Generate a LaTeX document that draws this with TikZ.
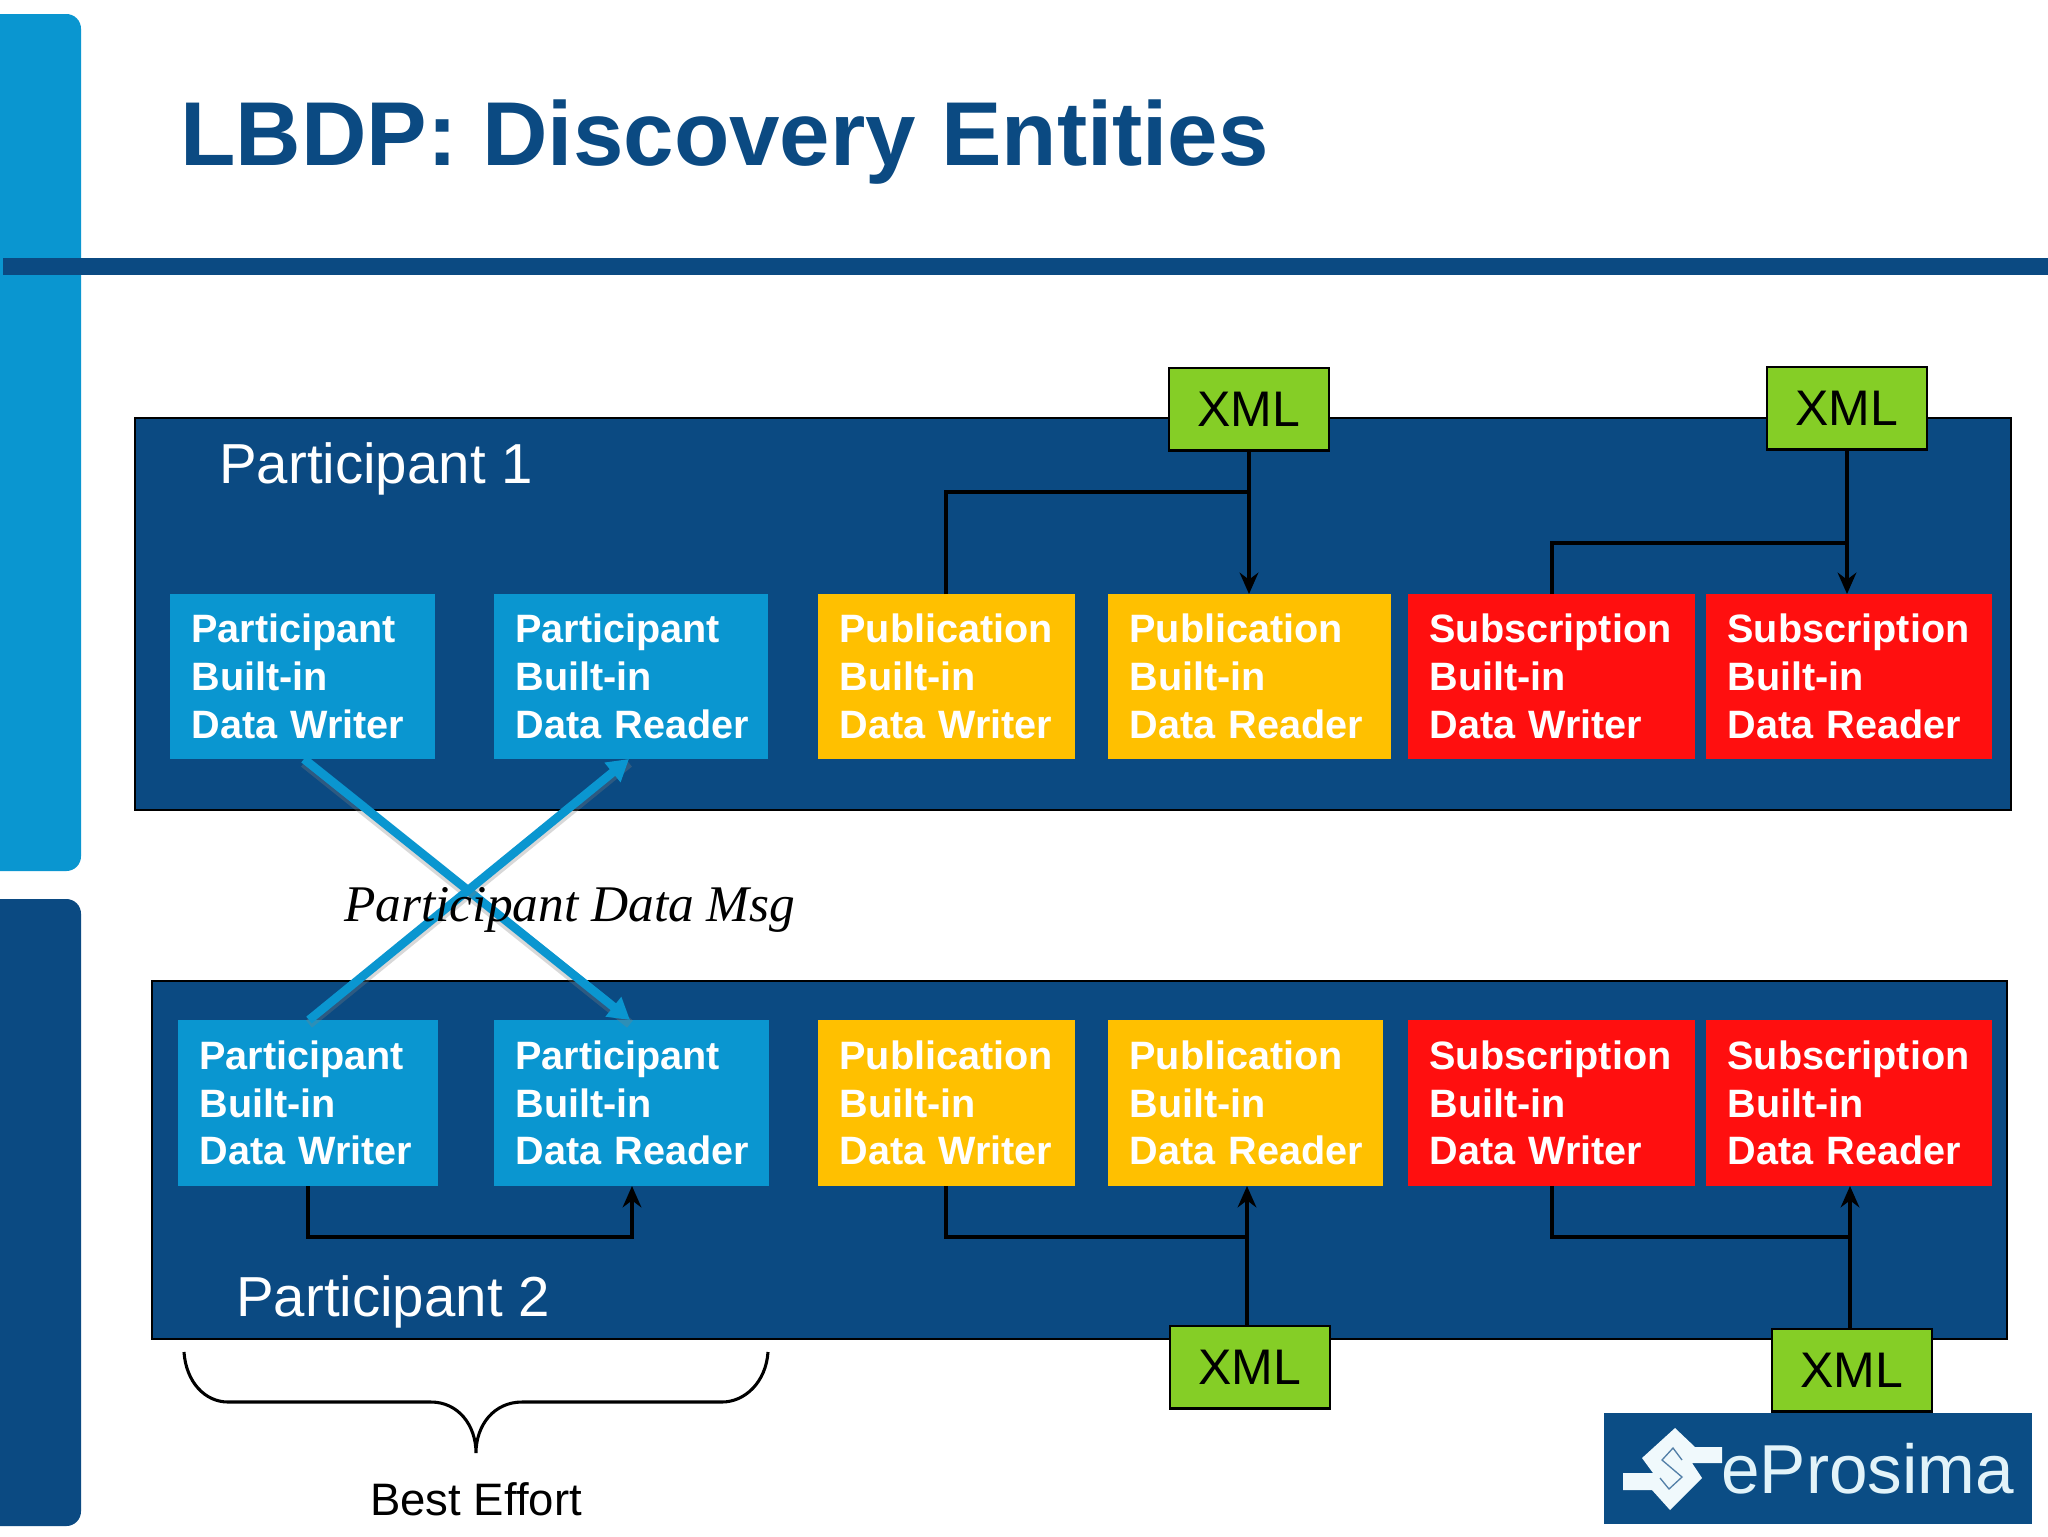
\documentclass[tikz,border=0pt]{standalone}
\usepackage{fontspec}
\setmainfont{Liberation Sans}
\newfontfamily\serifit{Liberation Serif}[ItalicFont=* Italic]
\usetikzlibrary{arrows.meta,positioning,calc}
\definecolor{navy}{HTML}{0B4A82}
\definecolor{sky}{HTML}{0A96D0}
\definecolor{amber}{HTML}{FFC000}
\definecolor{scarlet}{HTML}{FF0F0F}
\definecolor{lime}{HTML}{85CE26}
\newcommand{\fsz}[2]{\fontsize{\the\dimexpr #1pt*3/4\relax}{\the\dimexpr #2pt*3/4\relax}\selectfont}
\tikzset{
  x=0.75pt,y=-0.75pt,
  sidebar/.style={rounded corners=11pt},
  panel/.style={draw=black,line width=1.8pt,fill=navy,inner sep=0pt,outer sep=0pt,anchor=north west},
  entity/.style={inner sep=0pt,outer sep=0pt,anchor=north west,text=white,align=left,font=\fsz{39.6}{47.7}\bfseries},
  xmlbox/.style={draw=black,line width=1.8pt,fill=lime,inner sep=0pt,outer sep=0pt,anchor=north west,font=\fsz{50}{55},text=black},
  wire/.style={draw=black,line width=2.3pt},
  wirearrow/.style={wire,-{Stealth[length=16pt,width=14pt]}},
  cross/.style={draw=sky,line width=6.5pt,-{Triangle[length=16pt,width=18pt]},
    preaction={draw=gray,draw opacity=.3,line width=7pt,-,transform canvas={yshift=-3pt}}},
  plabel/.style={text=white,font=\fsz{56.4}{60},inner sep=0pt,anchor=base west},
}
\newcommand{\ent}[7]{% name x0 y0 x1 y1 colour text
  \pgfmathsetmacro{\boxw}{(#4-#2)*0.75}\pgfmathsetmacro{\boxh}{(#5-#3)*0.75}
  \pgfmathsetmacro{\boxt}{\boxw-32.25}
  \node[entity,fill=#6,minimum width=\boxw pt,minimum height=\boxh pt,text width=\boxt pt] (#1) at (#2,#3) {#7};}
\begin{document}
\begin{tikzpicture}
\useasboundingbox (0,0) rectangle (2048,1536);
\fill[white] (0,0) rectangle (2048,1536);
\clip (0,0) rectangle (2048,1536);
% side bars and title rule
\fill[sky,sidebar] (-30,14) rectangle (81,871);
\fill[navy,sidebar] (-30,899) rectangle (81,1526);
\fill[navy] (3,258) rectangle (2048,275);
\node[text=navy,font=\fsz{90.7}{100}\bfseries,inner sep=0pt,anchor=base west] (title) at (180,165) {LBDP: Discovery Entities};
% panels
\node[panel,minimum width=1407.0pt,minimum height=294pt] (p1) at (135,418) {};
\node[panel,minimum width=1391.25pt,minimum height=268.5pt] (p2) at (152,981) {};
\node[plabel] (l1) at (219,483) {Participant 1};
\node[plabel] (l2) at (236,1316) {Participant 2};
% entity boxes, participant 1
\ent{a1}{170}{594}{435}{759}{sky}{Participant\\Built-in\\Data~Writer}
\ent{a2}{494}{594}{768}{759}{sky}{Participant\\Built-in\\Data~Reader}
\ent{a3}{818}{594}{1075}{759}{amber}{Publication\\Built-in\\Data~Writer}
\ent{a4}{1108}{594}{1391}{759}{amber}{Publication\\Built-in\\Data~Reader}
\ent{a5}{1408}{594}{1695}{759}{scarlet}{Subscription\\Built-in\\Data~Writer}
\ent{a6}{1706}{594}{1992}{759}{scarlet}{Subscription\\Built-in\\Data~Reader}
% entity boxes, participant 2
\ent{b1}{178}{1020}{438}{1186}{sky}{Participant\\Built-in\\Data~Writer}
\ent{b2}{494}{1020}{769}{1186}{sky}{Participant\\Built-in\\Data~Reader}
\ent{b3}{818}{1020}{1075}{1186}{amber}{Publication\\Built-in\\Data~Writer}
\ent{b4}{1108}{1020}{1383}{1186}{amber}{Publication\\Built-in\\Data~Reader}
\ent{b5}{1408}{1020}{1695}{1186}{scarlet}{Subscription\\Built-in\\Data~Writer}
\ent{b6}{1706}{1020}{1992}{1186}{scarlet}{Subscription\\Built-in\\Data~Reader}
% xml boxes
\node[xmlbox,minimum width=120pt,minimum height=62pt] (x1) at (1169,368) {XML};
\node[xmlbox,minimum width=120pt,minimum height=62pt] (x2) at (1767,367) {XML};
\node[xmlbox,minimum width=120pt,minimum height=62pt] (x3) at (1170,1326) {XML};
\node[xmlbox,minimum width=120pt,minimum height=62pt] (x4) at (1772,1329) {XML};
% xml wiring, top
\draw[wirearrow] (x1.south) -- (x1.south |- a4.north);
\draw[wire] (946,0 |- a3.north) -- (946,492) -- (x1.south |- 0,492);
\draw[wirearrow] (x2.south) -- (x2.south |- a6.north);
\draw[wire] (1552,0 |- a5.north) -- (1552,543) -- (x2.south |- 0,543);
% xml wiring, bottom
\draw[wirearrow] (1247,0 |- x3.north) -- (1247,0 |- b4.south);
\draw[wire] (946,0 |- b3.south) -- (946,1237) -- (1247,1237);
\draw[wirearrow] (1850,0 |- x4.north) -- (1850,0 |- b6.south);
\draw[wire] (1552,0 |- b5.south) -- (1552,1237) -- (1850,1237);
\draw[wirearrow] (308,0 |- b1.south) -- (308,1237) -- (632,1237) -- (632,0 |- b2.south);
% crossing messages
\draw[cross] (304,0 |- a1.south) -- (630,0 |- b2.north);
\draw[cross] (309,0 |- b1.north) -- (629,0 |- a2.south);
\node[font=\fsz{51.4}{55}\serifit\itshape,inner sep=0pt,anchor=base west] (msg) at (344,921) {Participant Data Msg};
% brace
\draw[wire] (184,1352) .. controls (186,1382) and (205,1402) .. (228,1402)
  -- (431,1402) .. controls (458,1402) and (476,1425) .. (476,1453)
  .. controls (476,1425) and (494,1402) .. (522,1402)
  -- (722,1402) .. controls (745,1402) and (766,1382) .. (768,1352);
\node[font=\fsz{45.5}{50},inner sep=0pt,anchor=base] (be) at (476,1515) {Best Effort};
% logo
\fill[navy!96!sky] (1604,1413) rectangle (2032,1524);
\fill[white!94!sky]
  (1623,1473) -- (1653,1473) -- (1642,1458) -- (1675,1428) -- (1695,1447) -- (1722,1447) -- (1722,1463) -- (1692,1463)
  -- (1702,1478) -- (1670,1510) -- (1652,1490) -- (1623,1490) -- cycle;
\draw[navy!70!white,line width=1pt] (1682,1460) -- (1673,1448) -- (1662,1460) -- (1682,1477) -- (1669,1489) -- (1660,1478);
\node[text=white!88!sky,font=\fsz{69.3}{72},inner sep=0pt,anchor=base west] (logo) at (1721,1493) {eProsima};
\end{tikzpicture}
\end{document}
